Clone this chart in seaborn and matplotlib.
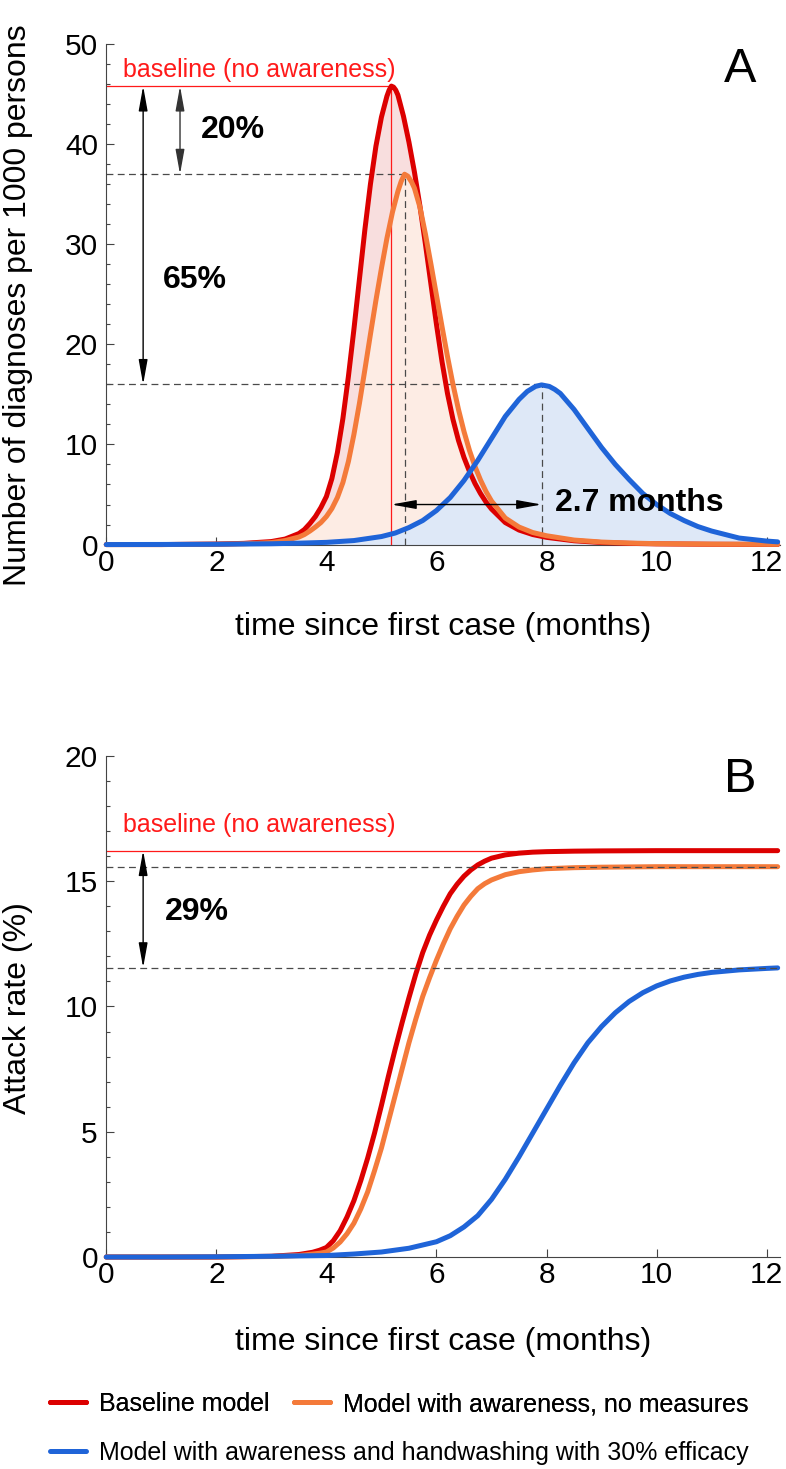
import matplotlib
matplotlib.use("Agg")
import pandas as pd
import matplotlib.pyplot as plt
import seaborn as sns
from matplotlib import ticker
from matplotlib.lines import Line2D

# ---- panel A: new diagnoses per 1000 persons ----
red_t_a = [0, 1, 2, 2.5, 3, 3.25, 3.5, 3.6, 3.7, 3.8, 3.9, 4.0, 4.1, 4.2, 4.3, 4.4, 4.5, 4.6,
           4.7, 4.8, 4.9, 5.0, 5.1, 5.14, 5.18, 5.22, 5.26, 5.3, 5.4, 5.5, 5.6, 5.7, 5.8, 5.9,
           6.0, 6.1, 6.2, 6.3, 6.4, 6.5, 6.6, 6.7, 6.8, 6.9, 7.0, 7.25, 7.5, 7.75, 8.0, 8.5,
           9.0, 9.5, 10.0, 11.0, 12.2]
red_a = [0.0, 0.0, 0.05, 0.12, 0.3, 0.55, 1.1, 1.5, 2.1, 2.8, 3.7, 4.8, 6.6, 9.2, 12.6, 16.8,
         21.5, 26.5, 31.5, 36.0, 39.8, 42.7, 44.8, 45.4, 45.8, 45.7, 45.4, 44.9, 42.8, 40.2,
         37.2, 33.8, 30.0, 26.0, 22.0, 18.3, 15.1, 12.5, 10.4, 8.7, 7.3, 6.1, 5.1, 4.25, 3.55,
         2.2, 1.45, 1.0, 0.72, 0.38, 0.2, 0.12, 0.07, 0.03, 0.01]

orange_t_a = [0, 1, 2, 2.5, 3, 3.25, 3.5, 3.6, 3.7, 3.8, 3.9, 4.0, 4.1, 4.2, 4.3, 4.4, 4.5,
              4.6, 4.7, 4.8, 4.9, 5.0, 5.1, 5.2, 5.3, 5.36, 5.42, 5.48, 5.55, 5.6, 5.7, 5.8,
              5.9, 6.0, 6.1, 6.2, 6.3, 6.4, 6.5, 6.6, 6.7, 6.8, 6.9, 7.0, 7.25, 7.5, 7.75,
              8.0, 8.5, 9.0, 9.5, 10.0, 11.0, 12.2]
orange_a = [0.0, 0.0, 0.03, 0.08, 0.2, 0.4, 0.75, 1.0, 1.35, 1.75, 2.2, 2.8, 3.6, 4.7, 6.2,
            8.3, 11.0, 14.1, 17.5, 21.0, 24.4, 27.6, 30.6, 33.2, 35.3, 36.3, 37.0, 36.8,
            36.2, 35.6, 33.7, 31.0, 28.0, 24.9, 21.8, 18.8, 16.0, 13.5, 11.3, 9.4, 7.8, 6.45,
            5.3, 4.35, 2.65, 1.75, 1.2, 0.88, 0.45, 0.25, 0.15, 0.09, 0.04, 0.02]

blue_t_a = [0, 1, 2, 3, 3.5, 4.0, 4.5, 5.0, 5.25, 5.5, 5.75, 6.0, 6.25, 6.5, 6.75, 7.0, 7.25,
            7.5, 7.65, 7.8, 7.91, 8.05, 8.15, 8.25, 8.5, 8.75, 9.0, 9.25, 9.5, 9.75, 10.0,
            10.25, 10.5, 10.75, 11.0, 11.5, 12.0, 12.2]
blue_a = [0.0, 0.01, 0.03, 0.08, 0.14, 0.22, 0.4, 0.8, 1.15, 1.7, 2.4, 3.4, 4.7, 6.4, 8.4,
          10.6, 12.8, 14.5, 15.3, 15.8, 15.95, 15.8, 15.5, 15.1, 13.5, 11.6, 9.7, 8.0, 6.5,
          5.1, 4.0, 3.1, 2.4, 1.8, 1.35, 0.65, 0.35, 0.27]

# ---- panel B: attack rate (%) ----
red_t_b = [0, 1, 2, 3, 3.5, 3.75, 3.875, 4.0, 4.125, 4.25, 4.375, 4.5, 4.625, 4.75, 4.875,
           5.0, 5.125, 5.25, 5.375, 5.5, 5.625, 5.75, 5.875, 6.0, 6.125, 6.25, 6.375, 6.5,
           6.625, 6.75, 6.875, 7.0, 7.25, 7.5, 7.75, 8.0, 8.5, 9.0, 10.0, 11.0, 12.2]
red_b = [0.0, 0.0, 0.0, 0.03, 0.1, 0.19, 0.27, 0.38, 0.65, 1.05, 1.6, 2.25, 3.05, 3.95, 4.95,
         6.05, 7.2, 8.3, 9.35, 10.35, 11.3, 12.15, 12.85, 13.45, 14.0, 14.5, 14.88, 15.2,
         15.45, 15.65, 15.8, 15.92, 16.05, 16.12, 16.16, 16.18, 16.2, 16.21, 16.22, 16.22,
         16.22]

orange_t_b = red_t_b
orange_b = [0.0, 0.0, 0.0, 0.02, 0.06, 0.12, 0.15, 0.2, 0.36, 0.6, 0.93, 1.35, 1.92, 2.6,
            3.45, 4.35, 5.4, 6.45, 7.5, 8.55, 9.5, 10.4, 11.15, 11.85, 12.5, 13.1, 13.6,
            14.05, 14.4, 14.7, 14.9, 15.05, 15.26, 15.38, 15.45, 15.5, 15.54, 15.56, 15.58,
            15.58, 15.58]

blue_t_b = [0, 1, 2, 3, 4.0, 4.5, 5.0, 5.5, 6.0, 6.25, 6.5, 6.75, 7.0, 7.25, 7.5, 7.75, 8.0,
            8.25, 8.5, 8.75, 9.0, 9.25, 9.5, 9.75, 10.0, 10.25, 10.5, 10.75, 11.0, 11.5,
            12.0, 12.2]
blue_b = [0.0, 0.0, 0.01, 0.03, 0.06, 0.12, 0.2, 0.35, 0.61, 0.85, 1.2, 1.65, 2.3, 3.1, 4.0,
          4.95, 5.9, 6.85, 7.75, 8.55, 9.2, 9.75, 10.2, 10.55, 10.82, 11.02, 11.17, 11.28,
          11.36, 11.46, 11.52, 11.54]

# reference levels used by the annotations
peak_t = [5.18, 5.42, 7.91]
peak_a = [45.8, 37.0, 16.0]
final_b = [16.22, 15.57, 11.55]

models = ["Baseline model",
          "Model with awareness, no measures",
          "Model with awareness and handwashing with 30% efficacy"]
line_colors = ["#dc0000", "#f47a3a", "#1f64d8"]
fill_colors = ["#f8dede", "#fdece4", "#dee8f7"]
thin_red = "#ff1a1a"
dash_col = "#4a4a4a"
LW = 3.6


def long_frame(pairs):
    parts = []
    for name, (t, v) in zip(models, pairs):
        parts.append(pd.DataFrame({"t": t, "v": v, "model": name}))
    return pd.concat(parts, ignore_index=True)


def style_axis(ax, ymax, major, minor):
    ax.set_xlim(0, 12.24)
    ax.set_ylim(0, ymax)
    ax.xaxis.set_major_locator(ticker.MultipleLocator(2))
    ax.yaxis.set_major_locator(ticker.MultipleLocator(major))
    ax.yaxis.set_minor_locator(ticker.MultipleLocator(minor))
    ax.tick_params(which="both", direction="in", color="#444444", width=0.8,
                   labelcolor="black")
    ax.tick_params(which="major", length=6)
    ax.tick_params(which="minor", length=3)
    ax.tick_params(axis="y", which="major", pad=6, labelsize=21.5)
    ax.tick_params(axis="x", which="major", pad=3, labelsize=21.5)
    for side in ["left", "bottom"]:
        ax.spines[side].set_color("#444444")
        ax.spines[side].set_linewidth(0.8)
    sns.despine(ax=ax)


def dashed(ax, xs, ys, z):
    ax.plot(xs, ys, color=dash_col, lw=0.9, ls=(0, (5.5, 3.5)), zorder=z)


def double_arrow(ax, p0, p1, col="black"):
    ax.annotate("", xy=p1, xytext=p0,
                arrowprops=dict(arrowstyle="<|-|>,head_length=1.5,head_width=0.27",
                                mutation_scale=10, color=col, lw=1.0,
                                shrinkA=0, shrinkB=0), zorder=5)


sns.set_style("ticks")
plt.rcParams["font.family"] = ["Liberation Sans", "DejaVu Sans"]
plt.rcParams["text.color"] = "black"
plt.rcParams["axes.labelcolor"] = "black"

fig = plt.figure(figsize=(7.86, 14.69), dpi=100)
ax_a = fig.add_axes([0.1352, 0.6293, 0.857, 0.3407])
ax_b = fig.add_axes([0.1352, 0.1443, 0.857, 0.3411])

# ---------- panel A ----------
pairs_a = [(red_t_a, red_a), (orange_t_a, orange_a), (blue_t_a, blue_a)]
df_a = long_frame(pairs_a)
for (t, v), fc in zip(pairs_a, fill_colors):
    ax_a.fill_between(t, 0, v, color=fc, lw=0, zorder=1)

ax_a.plot([0, peak_t[0]], [peak_a[0], peak_a[0]], color=thin_red, lw=0.9, zorder=2)
ax_a.plot([peak_t[0], peak_t[0]], [0, peak_a[0]], color=thin_red, lw=0.9, zorder=2)
dashed(ax_a, [0, peak_t[1]], [peak_a[1], peak_a[1]], 2)
dashed(ax_a, [peak_t[1], peak_t[1]], [0, peak_a[1]], 2)
dashed(ax_a, [0, peak_t[2]], [peak_a[2], peak_a[2]], 2)
dashed(ax_a, [peak_t[2], peak_t[2]], [0, peak_a[2]], 2)

sns.lineplot(data=df_a, x="t", y="v", hue="model", hue_order=models, palette=line_colors,
             estimator=None, sort=False, linewidth=LW, legend=False, ax=ax_a,
             solid_capstyle="round", solid_joinstyle="round", zorder=3, clip_on=False)

double_arrow(ax_a, (0.67, peak_a[0]), (0.67, peak_a[2]))
double_arrow(ax_a, (1.34, peak_a[0]), (1.34, peak_a[1]), col="#333333")
double_arrow(ax_a, (peak_t[0], 4.0), (peak_t[2], 4.0))

ax_a.text(0.30, 46.75, "baseline (no awareness)", color=thin_red, fontsize=18,
          ha="left", va="baseline")
ax_a.text(1.72, 41.45, "20%", fontsize=23, fontweight="bold", ha="left", va="center")
ax_a.text(1.03, 26.45, "65%", fontsize=23, fontweight="bold", ha="left", va="center")
ax_a.text(8.16, 4.15, "2.7 months", fontsize=23, fontweight="bold", ha="left", va="center",
          zorder=6)
ax_a.text(11.52, 47.45, "A", fontsize=35, ha="center", va="center")

style_axis(ax_a, 50, 10, 2)
ax_a.set_xlabel("time since first case (months)", fontsize=23)
ax_a.set_ylabel("Number of diagnoses per 1000 persons", fontsize=23)
ax_a.xaxis.set_label_coords(0.5, -0.135)
ax_a.yaxis.set_label_coords(-0.109, 0.478)

# ---------- panel B ----------
df_b = long_frame([(red_t_b, red_b), (orange_t_b, orange_b), (blue_t_b, blue_b)])

ax_b.plot([0, 12.2], [final_b[0], final_b[0]], color=thin_red, lw=0.9, zorder=2)
sns.lineplot(data=df_b, x="t", y="v", hue="model", hue_order=models, palette=line_colors,
             estimator=None, sort=False, linewidth=LW, legend=False, ax=ax_b,
             solid_capstyle="round", solid_joinstyle="round", zorder=3, clip_on=False)
dashed(ax_b, [0, 12.2], [final_b[1], final_b[1]], 4)
dashed(ax_b, [0, 12.2], [final_b[2], final_b[2]], 4)

double_arrow(ax_b, (0.67, final_b[0]), (0.67, final_b[2]))
ax_b.text(0.30, 16.97, "baseline (no awareness)", color=thin_red, fontsize=18,
          ha="left", va="baseline")
ax_b.text(1.07, 13.78, "29%", fontsize=23, fontweight="bold", ha="left", va="center")
ax_b.text(11.52, 19.04, "B", fontsize=35, ha="center", va="center")

style_axis(ax_b, 20, 5, 1)
ax_b.set_xlabel("time since first case (months)", fontsize=23)
ax_b.set_ylabel("Attack rate (%)", fontsize=23)
ax_b.xaxis.set_label_coords(0.5, -0.14)
ax_b.yaxis.set_label_coords(-0.109, 0.497)

# ---------- legend ----------
handles = [Line2D([], [], color=c, lw=LW) for c in line_colors]
leg_kw = dict(frameon=False, fontsize=18, handlelength=1.44, handletextpad=0.52,
              columnspacing=1.0, borderpad=0, borderaxespad=0, loc="center left",
              labelcolor="black")
leg1 = fig.legend(handles[:2], models[:2], ncol=2, bbox_to_anchor=(0.0636, 0.0442), **leg_kw)
fig.add_artist(leg1)
fig.legend(handles[2:], models[2:], ncol=1, bbox_to_anchor=(0.0636, 0.0109), **leg_kw)

fig.savefig("out.png", dpi=100)
